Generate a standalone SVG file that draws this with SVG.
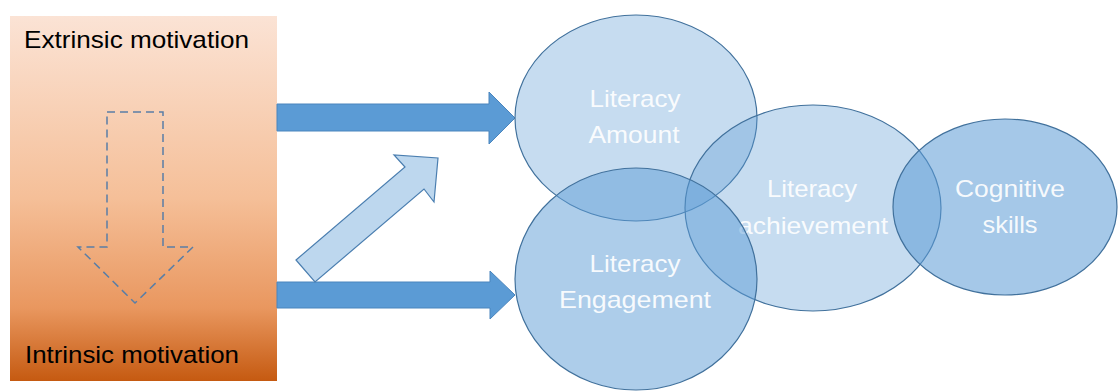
<svg xmlns="http://www.w3.org/2000/svg" width="1118" height="391" viewBox="0 0 1118 391">
<defs>
<linearGradient id="orange" x1="0" y1="0" x2="0" y2="1">
<stop offset="0" stop-color="#fbe3d5"/>
<stop offset="0.5" stop-color="#f5bf98"/>
<stop offset="0.8" stop-color="#e9975f"/>
<stop offset="1" stop-color="#c55a11"/>
</linearGradient>
</defs>
<style>
.lbl{font-family:"Liberation Sans",Arial,sans-serif;font-size:24px;fill:#000}
.wl{font-family:"Liberation Sans",Arial,sans-serif;font-size:24px;fill:#ffffff;fill-opacity:0.92;text-anchor:middle}
.ell{stroke:#41719c;stroke-width:1.2;fill:#5b9bd5}
.big{fill:#5b9bd5;stroke:#4a85bd;stroke-width:1}
</style>
<g id="motivation">
<rect x="10" y="16" width="267" height="365" fill="url(#orange)"/>
<text class="lbl" x="24" y="48" textLength="225" lengthAdjust="spacingAndGlyphs">Extrinsic motivation</text>
<text class="lbl" x="25" y="363" textLength="214" lengthAdjust="spacingAndGlyphs">Intrinsic motivation</text>
<polygon points="107,112 163,112 163,247 193,247 135,303 78,247 107,247" fill="none" stroke="#5a7ea6" stroke-width="1.5" stroke-dasharray="8,5"/>
</g>
<g id="connectors">
<polygon class="big" points="277,104 489,104 489,92 515,118 489,144 489,131 277,131"/>
<polygon class="big" points="277,282 490,282 490,271 515,295 490,319 490,308 277,308"/>
<polygon points="296,260 405,167 394,155 438,158 434,202 424,189 315,282" fill="#bdd7ee" stroke="#4a7eb0" stroke-width="1.2"/>
</g>
<g id="amount">
<ellipse class="ell" cx="636" cy="118" rx="121" ry="103" fill-opacity="0.35"/>
<text class="wl" x="635" y="107" textLength="91" lengthAdjust="spacingAndGlyphs">Literacy</text>
<text class="wl" x="634" y="143" textLength="91" lengthAdjust="spacingAndGlyphs">Amount</text>
</g>
<g id="achievement">
<ellipse class="ell" cx="813" cy="208" rx="128" ry="103" fill-opacity="0.35"/>
<text class="wl" x="812" y="197" textLength="90" lengthAdjust="spacingAndGlyphs">Literacy</text>
<text class="wl" x="813" y="234" textLength="150" lengthAdjust="spacingAndGlyphs">achievement</text>
</g>
<g id="engagement">
<ellipse class="ell" cx="636" cy="279" rx="121" ry="111" fill-opacity="0.5"/>
<text class="wl" x="635" y="272" textLength="91" lengthAdjust="spacingAndGlyphs">Literacy</text>
<text class="wl" x="635" y="308" textLength="152" lengthAdjust="spacingAndGlyphs">Engagement</text>
</g>
<g id="cognitive">
<ellipse class="ell" cx="1005" cy="207" rx="112" ry="88" fill-opacity="0.55"/>
<text class="wl" x="1010" y="197" textLength="110" lengthAdjust="spacingAndGlyphs">Cognitive</text>
<text class="wl" x="1010" y="233" textLength="55" lengthAdjust="spacingAndGlyphs">skills</text>
</g>
</svg>
